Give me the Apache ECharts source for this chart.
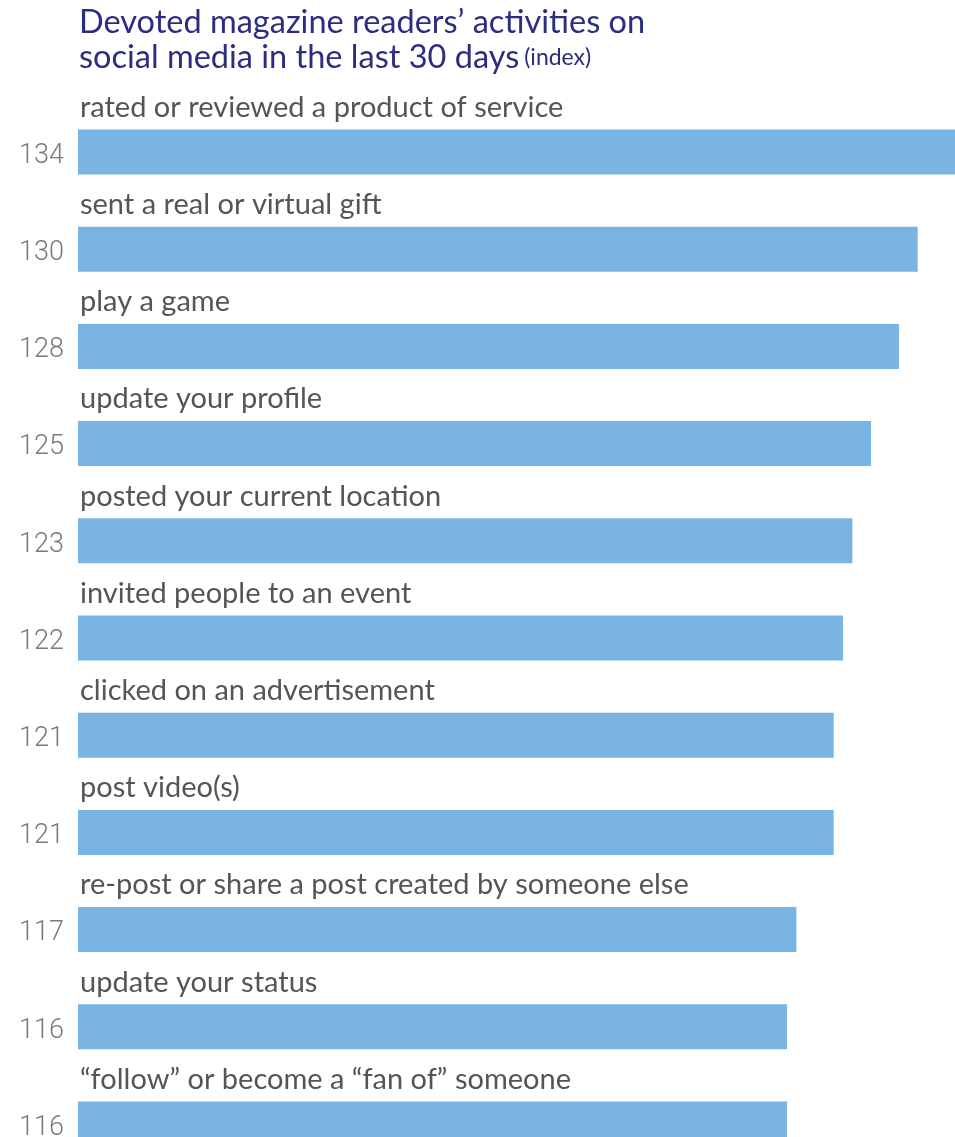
<!DOCTYPE html>
<html>
<head>
<meta charset="utf-8">
<script src="https://cdn.jsdelivr.net/npm/echarts@6/dist/echarts.min.js"></script>
<style>
  html, body { margin: 0; padding: 0; background: #fff; }
  #chart { width: 955px; height: 1137px; }
</style>
</head>
<body>
<div id="chart"></div>
<script>
// Activities, top to bottom
const activities = [
  'rated or reviewed a product of service',
  'sent a real or virtual gift',
  'play a game',
  'update your profile',
  'posted your current location',
  'invited people to an event',
  'clicked on an advertisement',
  'post video(s)',
  're-post or share a post created by someone else',
  'update your status',
  '\u201cfollow\u201d or become a \u201cfan of\u201d someone'
];
// Index values for each activity
const indexValues = [134, 130, 128, 125, 123, 122, 121, 121, 117, 116, 116];

const titleLine1 = 'Devoted magazine readers\u2019 activities on';
const titleLine2 = 'social media in the last 30 days';
const titleNote = '(index)';

const chart = echarts.init(document.getElementById('chart'), null, { renderer: 'canvas' });

chart.setOption({
  animation: false,
  title: {
    left: 74,
    top: 0,
    text: '{t|' + titleLine1 + '}\n{t|' + titleLine2 + '} {s|' + titleNote + '}',
    textStyle: {
      fontWeight: 'normal',
      rich: {
        t: { fontFamily: 'Lato', fontWeight: 'normal', fontSize: 32.5, color: '#2b2d80', lineHeight: 35 },
        s: { fontFamily: 'Lato', fontWeight: 'normal', fontSize: 23, color: '#2b2d80', lineHeight: 35 }
      }
    }
  },
  // last row runs past the bottom edge of the canvas
  grid: {
    left: 78, top: 103.4, width: 877, height: 1069.2,
    containLabel: false, outerBoundsMode: 'none'
  },
  xAxis: {
    type: 'value', min: 40, max: 134, show: false
  },
  yAxis: {
    type: 'category', data: activities, inverse: true, show: false
  },
  series: [
    {
      type: 'bar',
      data: indexValues,
      barWidth: 45,
      itemStyle: { color: '#79b4e2' },
      label: {
        show: true,
        position: 'left',
        distance: 14,
        offset: [0, 4],
        formatter: p => p.value,
        fontFamily: 'Roboto',
        fontWeight: 300,
        fontSize: 27,
        color: '#7a7a7a'
      }
    },
    {
      // transparent twin bars carry the activity names above each bar
      type: 'bar',
      data: indexValues,
      barWidth: 45,
      barGap: '-100%',
      itemStyle: { color: 'rgba(0,0,0,0)' },
      silent: true,
      label: {
        show: true,
        position: [2, -22],
        align: 'left',
        verticalAlign: 'middle',
        formatter: p => activities[p.dataIndex],
        fontFamily: 'Lato',
        fontSize: 29,
        color: '#555555'
      }
    }
  ]
});
</script>
</body>
</html>
